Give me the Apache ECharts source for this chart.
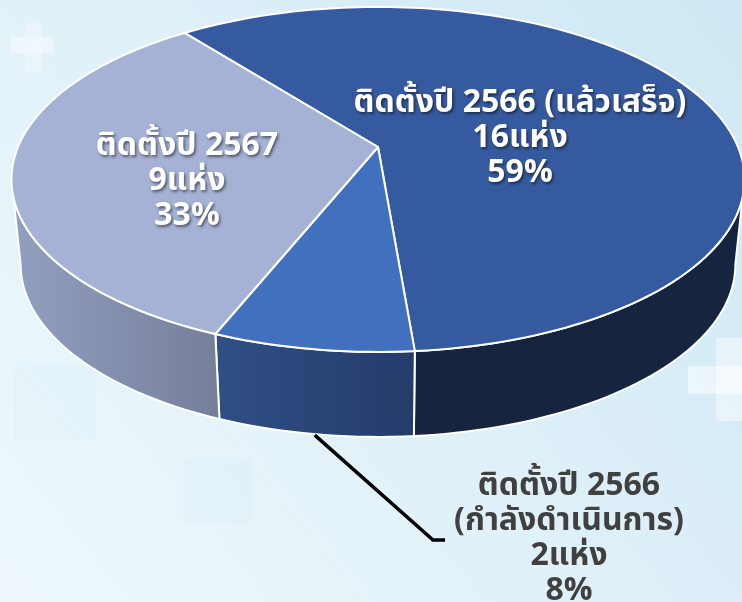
<!DOCTYPE html>
<html><head><meta charset="utf-8">
<style>html,body{margin:0;padding:0;background:#e6f4fa}#c{width:742px;height:602px}</style>
<script src="https://cdn.jsdelivr.net/npm/echarts@6/dist/echarts.min.js"></script>
</head><body><div id="c"></div>
<script>
// data
const names = ['ติดตั้งปี 2566 (แล้วเสร็จ)', 'ติดตั้งปี 2566\n(กำลังดำเนินการ)', 'ติดตั้งปี 2567'];
const sites = [16, 2, 9];
const siteLabels = ['16แห่ง', '2แห่ง', '9แห่ง'];
const percentLabels = ['59%', '8%', '33%'];
const topColors = ['#365A9F', '#4170BF', '#A5B2D6'];
const sideColors = [['#17243F', '#17243F'], ['#2F4F86', '#253C6B'], ['#939FC0', '#757F9A']];
const textColors = ['#fff', '#404040', '#fff'];
const labelAnchors = [[520, 141], [569, 541], [187, 184]];

// projection of the pie disc
const cx = 378, cy = 147, R = 360, A = 166.4, k = -0.188, depth = 85, shrink = 0.975;
const startAngle = -38.1, visFrom = 100.8, visTo = 259.2;
const total = sites.reduce((a, b) => a + b, 0);
const rim = (deg, low) => {
  const t = deg * Math.PI / 180, sx = Math.sin(t), py = -Math.cos(t); // py = +1 at the near edge
  const den = 1 + k * py;
  const x = R * sx / den, y = A * py / den;
  return low ? [cx + x * shrink, cy + y + depth] : [cx + x, cy + y];
};
const arc = (a, b, low) => {
  const n = Math.max(2, Math.ceil(Math.abs(b - a) / 1.5)), out = [];
  for (let i = 0; i <= n; i++) out.push(rim(a + (b - a) * i / n, low));
  return out;
};
const ranges = [];
sites.reduce((acc, v) => { const e = acc + v / total * 360; ranges.push([acc, e]); return e; }, startAngle);

const STROKE = { stroke: '#fff', lineWidth: 2, lineJoin: 'round' };
const font = 'bold 32px "Noto Sans Thai", "Noto Sans", "DejaVu Sans", sans-serif';
const faint = (x, y, width, height, fill) => ({ type: 'rect', shape: { x, y, width, height }, style: { fill } });

const option = {
  backgroundColor: { type: 'linear', x: 1, y: 0, x2: 0, y2: 1, colorStops: [
    { offset: 0, color: '#CDE8F4' }, { offset: 0.5, color: '#DFF0F8' }, { offset: 1, color: '#EEF8FC' }] },
  animation: false,
  graphic: [
    faint(10, 37, 43, 16, 'rgba(255,255,255,.35)'),
    faint(25, 23, 17, 49, 'rgba(255,255,255,.25)'),
    faint(688, 366, 54, 28, 'rgba(255,255,255,.5)'),
    faint(716, 338, 26, 83, 'rgba(255,255,255,.45)'),
    faint(14, 362, 82, 78, 'rgba(205,232,245,.12)'),
    faint(183, 458, 68, 66, 'rgba(205,232,245,.15)')
  ],
  series: [
    { type: 'custom', coordinateSystem: 'none', name: 'side', data: sites,
      renderItem: (p) => {
        const i = p.dataIndex, a = Math.max(ranges[i][0], visFrom), b = Math.min(ranges[i][1], visTo);
        const pts = arc(a, b, false).concat(arc(b, a, true));
        return { type: 'polygon', shape: { points: pts }, style: { ...STROKE,
          fill: { type: 'linear', x: 0, y: 0, x2: 1, y2: 0, colorStops: [
            { offset: 0, color: sideColors[i][0] }, { offset: 1, color: sideColors[i][1] }] } } };
      } },
    { type: 'custom', coordinateSystem: 'none', name: 'top', data: sites,
      renderItem: (p) => {
        const i = p.dataIndex;
        return { type: 'polygon', shape: { points: [[cx, cy]].concat(arc(ranges[i][0], ranges[i][1], false)) },
          style: { ...STROKE, fill: topColors[i] } };
      } },
    { type: 'custom', coordinateSystem: 'none', name: 'labels', data: sites, z: 5,
      renderItem: (p) => {
        const i = p.dataIndex, items = [];
        items.push({ type: 'text', style: {
          text: names[i] + '\n' + siteLabels[i] + '\n' + percentLabels[i],
          x: labelAnchors[i][0], y: labelAnchors[i][1], align: 'center', verticalAlign: 'middle',
          lineHeight: 35, font, fill: textColors[i],
          textShadowColor: i === 1 ? 'transparent' : 'rgba(0,0,0,.5)', textShadowBlur: 3, textShadowOffsetX: 1.5, textShadowOffsetY: 1.5 } });
        if (i === 1) {
          const mid = (ranges[i][0] + ranges[i][1]) / 2, s = rim(mid, true);
          items.push({ type: 'polyline', shape: { points: [[s[0] + 1, s[1] + 1], [433, 540], [445, 540]] },
            style: { stroke: '#000', lineWidth: 3.5, fill: 'none' } });
        }
        return { type: 'group', children: items };
      } }
  ]
};
echarts.init(document.getElementById('c'), null, { renderer: 'canvas' }).setOption(option);
</script></body></html>
